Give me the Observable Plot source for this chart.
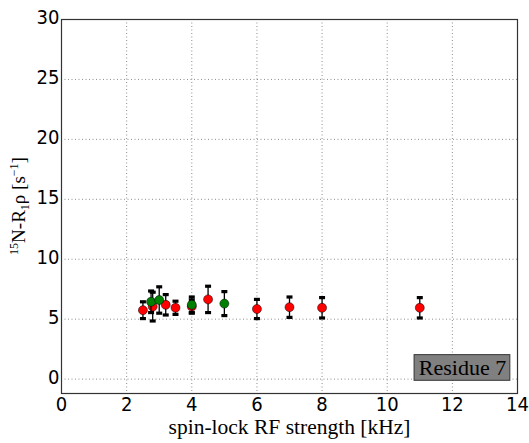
<!DOCTYPE html>
<html><head><meta charset="utf-8">
<script src="https://cdn.jsdelivr.net/npm/d3@7"></script>
<script src="https://cdn.jsdelivr.net/npm/@observablehq/plot@0.6"></script>
<style>body{margin:0;background:#fff} svg{display:block}</style>
</head><body><div id="chart"></div>
<script>
// data
const redX   = [2.5, 2.8, 3.2, 3.5, 4.0, 4.5, 6.0, 7.0, 8.0, 11.0];
const redY   = [5.75, 6.05, 6.2, 5.95, 6.05, 6.65, 5.85, 6.0, 5.95, 5.95];
const redErr = [0.7, 1.2, 0.85, 0.55, 0.55, 1.1, 0.8, 0.85, 0.85, 0.85];
const greenX   = [2.75, 3.0, 4.0, 5.0];
const greenY   = [6.45, 6.6, 6.2, 6.3];
const greenErr = [0.9, 1.1, 0.65, 1.0];
const xTicks = [0, 2, 4, 6, 8, 10, 12, 14];
const yTicks = [0, 5, 10, 15, 20, 25, 30];
const xLabel = "spin-lock RF strength [kHz]";
const residueLabel = "Residue 7";
// annotation box in data units
const boxX = [10.84, 13.78], boxY = [-0.14, 2.0];

const toRows = (xs, ys, es) => xs.map((x, i) => ({x, y: ys[i], lo: ys[i] - es[i], hi: ys[i] + es[i]}));
const red = toRows(redX, redY, redErr);
const green = toRows(greenX, greenY, greenErr);

const cap = {draw(ctx) { ctx.rect(-3, -1.6, 6, 3.2); }};
const errMarks = (rows) => [
  Plot.ruleX(rows, {x: "x", y1: "lo", y2: "hi", stroke: "#000", strokeWidth: 1.3}),
  Plot.dot(rows, {x: "x", y: "lo", symbol: cap, fill: "#000", stroke: "none"}),
  Plot.dot(rows, {x: "x", y: "hi", symbol: cap, fill: "#000", stroke: "none"})
];

const serif = "'Liberation Serif', 'DejaVu Serif', serif";
const chart = Plot.plot({
  width: 529, height: 443,
  marginLeft: 61, marginRight: 12, marginTop: 19, marginBottom: 50,
  style: {fontFamily: "'DejaVu Sans Condensed', 'DejaVu Sans', sans-serif", fontSize: "20px", color: "#000", background: "#fff"},
  x: {domain: [0, 14]},
  y: {domain: [-1.2, 30]},
  marks: [
    Plot.gridX(xTicks, {stroke: "#000", strokeOpacity: 0.45, strokeDasharray: "1,2.5"}),
    Plot.gridY(yTicks, {stroke: "#000", strokeOpacity: 0.45, strokeDasharray: "1,2.5"}),
    Plot.axisX({ticks: xTicks, tickSize: 0, tickPadding: 3, label: null, fontSize: 20, letterSpacing: -1.5}),
    Plot.axisY({ticks: yTicks, tickSize: 0, tickPadding: 2, label: null, fontSize: 20, letterSpacing: -1.5, dy: -2}),
    ...errMarks(red),
    Plot.dot(red, {x: "x", y: "y", r: 4.5, fill: "#ff0000", stroke: "#000", strokeWidth: 0.5}),
    ...errMarks(green),
    Plot.dot(green, {x: "x", y: "y", r: 4.5, fill: "#008000", stroke: "#000", strokeWidth: 0.5}),
    Plot.rect([0], {x1: () => boxX[0], x2: () => boxX[1], y1: () => boxY[0], y2: () => boxY[1], fill: "#808080", stroke: "#333", strokeWidth: 1}),
    Plot.text([residueLabel], {x: () => (boxX[0] + boxX[1]) / 2, y: () => (boxY[0] + boxY[1]) / 2, text: d => d, fontFamily: serif, fontSize: 22, fill: "#000"}),
    Plot.text([xLabel], {frameAnchor: "bottom", text: d => d, dy: 40, fontFamily: serif, fontSize: 21.5, fill: "#000"}),
    Plot.frame({stroke: "#333", strokeWidth: 1.2})
  ]
});
document.getElementById("chart").appendChild(chart);

// y-axis label with super/subscripts
const svg = d3.select(chart);
const t = svg.append("text")
  .attr("transform", "translate(25,206) rotate(-90)")
  .attr("text-anchor", "middle")
  .attr("font-family", serif)
  .attr("font-size", 19)
  .attr("fill", "#000");
t.append("tspan").attr("font-size", 12).attr("dy", -7).text("15");
t.append("tspan").attr("dy", 7).text("N-R");
t.append("tspan").attr("font-size", 12).attr("dy", 4).text("1");
t.append("tspan").attr("dy", -4).text("ρ [s");
t.append("tspan").attr("font-size", 12).attr("dy", -7).text("−1");
t.append("tspan").attr("dy", 7).text("]");
</script>
</body></html>
